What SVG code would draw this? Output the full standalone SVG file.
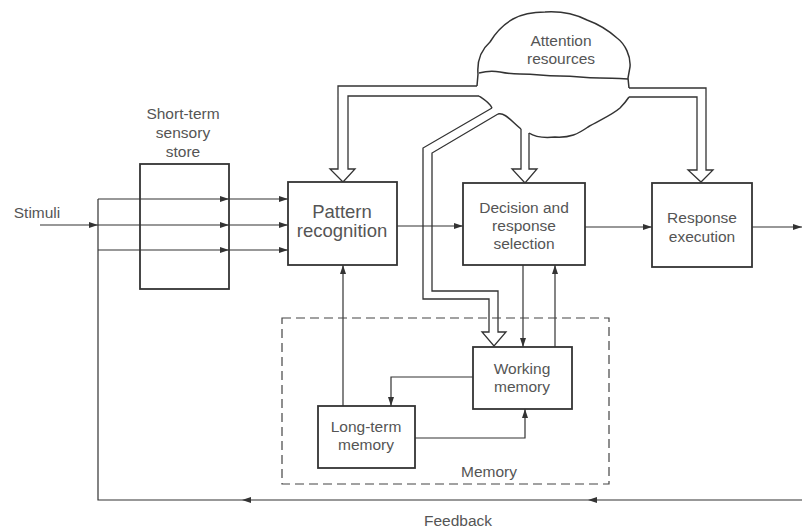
<svg xmlns="http://www.w3.org/2000/svg" width="802" height="529" viewBox="0 0 802 529">
<style>
.box{fill:#fff;stroke:#333;stroke-width:1.8}
.ln{fill:none;stroke:#333;stroke-width:1.2}
.hol{fill:none;stroke:#333;stroke-width:1.3;stroke-linejoin:miter}
.cl{fill:none;stroke:#333;stroke-width:1.5}
.dash{fill:none;stroke:#444;stroke-width:1.2;stroke-dasharray:9 5}
text{font-family:"Liberation Sans",Arial,sans-serif;font-size:15.5px;fill:#555;text-anchor:middle}
.big{font-size:18.5px}
</style>
<defs>
<marker id="ah" markerUnits="userSpaceOnUse" markerWidth="9" markerHeight="6" refX="9" refY="3" orient="auto">
<path d="M0,0 L9,3 L0,6 z" fill="#333"/>
</marker>
</defs>
<g id="attention">
<path class="cl" d="M477,86 L478,74 C477,62 481,50 490,42 C496,32 504,24 513,19 C522,14 532,12 545,12 C560,11 575,14 587,20 C598,24 608,30 617,38 C625,44 631,56 630,67 L628,78 L629,88"/>
<path class="cl" d="M479,73 Q490,70 500,72 T520,74 T540,75 T560,76 T580,77 T600,78 T628,79"/>
<path class="cl" d="M479,96 C485,100 490,103 492,108"/>
<path class="cl" d="M498,114 C505,112 512,122 521,129"/>
<path class="cl" d="M529,133 C535,137 545,138 555,137 C570,138 578,134 588,127 C600,120 612,115 620,108 C625,103 627,100 629,97"/>
<text x="561" y="46">Attention</text>
<text x="561" y="64">resources</text>
</g>
<g id="connectors">
<path class="hol" d="M477,86 L338,86 L338,169 L330,169 L343,182 L355,169 L348,169 L348,96 L479,96"/>
<path class="hol" d="M521,129 L521,169 L512,169 L525,183 L537,169 L529,169 L529,133"/>
<path class="hol" d="M629,88 L706,88 L706,170 L713,170 L701,182 L688,170 L697,170 L697,97 L629,97"/>
<path class="hol" d="M492,108 L423,148 L423,299 L489,299 L489,332 L482,332 L494,346 L506,332 L498,332 L498,291 L432,291 L432,153 L498,114"/>
<path class="ln" d="M40,225 L98,225" marker-end="url(#ah)"/>
<path class="ln" d="M98,199 L229,199" marker-end="url(#ah)"/>
<path class="ln" d="M98,225 L229,225" marker-end="url(#ah)"/>
<path class="ln" d="M98,250 L229,250" marker-end="url(#ah)"/>
<path class="ln" d="M229,199 L288,199" marker-end="url(#ah)"/>
<path class="ln" d="M229,225 L288,225" marker-end="url(#ah)"/>
<path class="ln" d="M229,250 L288,250" marker-end="url(#ah)"/>
<path class="ln" d="M98,199 L98,500 L242,500"/>
<path class="ln" d="M802,500 L588,500" marker-end="url(#ah)"/>
<path class="ln" d="M588,500 L242,500" marker-end="url(#ah)"/>
<path class="ln" d="M397,226 L463,226" marker-end="url(#ah)"/>
<path class="ln" d="M585,227 L652,227" marker-end="url(#ah)"/>
<path class="ln" d="M752,227 L802,227" marker-end="url(#ah)"/>
<path class="ln" d="M343,406 L343,265" marker-end="url(#ah)"/>
<path class="ln" d="M473,377 L391,377 L391,406" marker-end="url(#ah)"/>
<path class="ln" d="M415,438 L525,438 L525,409" marker-end="url(#ah)"/>
<path class="ln" d="M523,265 L523,347" marker-end="url(#ah)"/>
<path class="ln" d="M555,347 L555,265" marker-end="url(#ah)"/>
</g>
<g id="stimuli"><text x="37" y="218">Stimuli</text></g>
<g id="sensory-store">
<rect class="box" x="140" y="164" width="89" height="125" style="fill:none"/>
<text x="183" y="119">Short-term</text>
<text x="183" y="138">sensory</text>
<text x="183" y="157">store</text>
</g>
<g id="pattern-recognition">
<rect class="box" x="288" y="182" width="109" height="83"/>
<text class="big" x="342" y="218">Pattern</text>
<text class="big" x="342" y="237">recognition</text>
</g>
<g id="decision">
<rect class="box" x="463" y="183" width="122" height="82"/>
<text x="524" y="213">Decision and</text>
<text x="524" y="231">response</text>
<text x="524" y="249">selection</text>
</g>
<g id="response-execution">
<rect class="box" x="652" y="183" width="100" height="84"/>
<text x="702" y="223">Response</text>
<text x="702" y="242">execution</text>
</g>
<g id="memory">
<rect class="dash" x="282" y="318" width="327" height="166"/>
<text x="489" y="477">Memory</text>
</g>
<g id="working-memory">
<rect class="box" x="473" y="347" width="99" height="62"/>
<text x="522" y="374">Working</text>
<text x="522" y="392">memory</text>
</g>
<g id="long-term-memory">
<rect class="box" x="318" y="406" width="97" height="62"/>
<text x="366" y="432">Long-term</text>
<text x="366" y="450">memory</text>
</g>
<g id="feedback"><text x="458" y="526">Feedback</text></g>
</svg>
